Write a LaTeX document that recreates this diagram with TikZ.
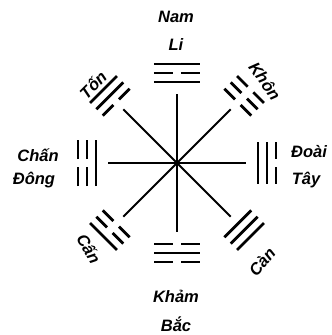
\documentclass[tikz,border=0pt]{standalone}
\usepackage{fontspec}
\setmainfont{Liberation Sans}
\usetikzlibrary{positioning}

\begin{document}
\begin{tikzpicture}[x=1pt,y=1pt,
    yao1/.style={line width=2.7pt},
    yao0/.style={line width=2.7pt,dash pattern=on #1pt off 8pt},
    spoke/.style={line width=1.8pt},
    every node/.style={font=\fontsize{16.5}{18}\selectfont\bfseries\itshape,inner sep=0pt}]
  \useasboundingbox (-177,-172) rectangle (155,163);
  \coordinate (c) at (0,0);
  % spokes
  \foreach \ang in {0,90,180,270}
    \coordinate (e\ang) at (\ang:69);
  \foreach \ang in {45,135,225,315}
    \coordinate (e\ang) at (\ang:76);
  \foreach \ang in {0,45,...,315}
    \draw[spoke] (c) -- (e\ang);
  \fill (c) circle (2.4);
  % trigrams, lines listed from the centre outwards
  \foreach \ang/\hl/\r/\p/\q/\s in {90/23/81/1/0/1, 45/19/86/0/0/0, 0/21/81/1/1/0,
      315/19/86/1/1/1, 270/23/81/0/1/0, 225/19/86/0/0/1, 180/23/81/1/0/0, 135/19/86/0/1/1} {
    \pgfmathsetmacro\g{\hl-4}
    \begin{scope}[rotate=\ang-90]
      \draw[yao\p=\g] (-\hl,\r) -- (\hl,\r);
      \draw[yao\q=\g] (-\hl,\r+9) -- (\hl,\r+9);
      \draw[yao\s=\g] (-\hl,\r+18) -- (\hl,\r+18);
    \end{scope}
  }
  % labels
  \node (nam) at (-1,146) {Nam};
  \node (li) at (-1,118) {Li};
  \node (kham) at (-1,-133) {Khảm};
  \node (bac) at (-1,-161) {Bắc};
  \node (chan) at (-139,8) {Chấn};
  \node (dong) at (-143,-17) {Đông};
  \node (doai) at (132,11) {Đoài};
  \node (tay) at (129,-17) {Tây};
  \node[rotate=45] (ton) at (-84,78) {Tốn};
  \node[rotate=-55] (khon) at (88,82) {Khôn};
  \node[rotate=-60] (can) at (-88,-86) {Cấn};
  \node[rotate=50] (kien) at (85,-99) {Càn};
\end{tikzpicture}
\end{document}
